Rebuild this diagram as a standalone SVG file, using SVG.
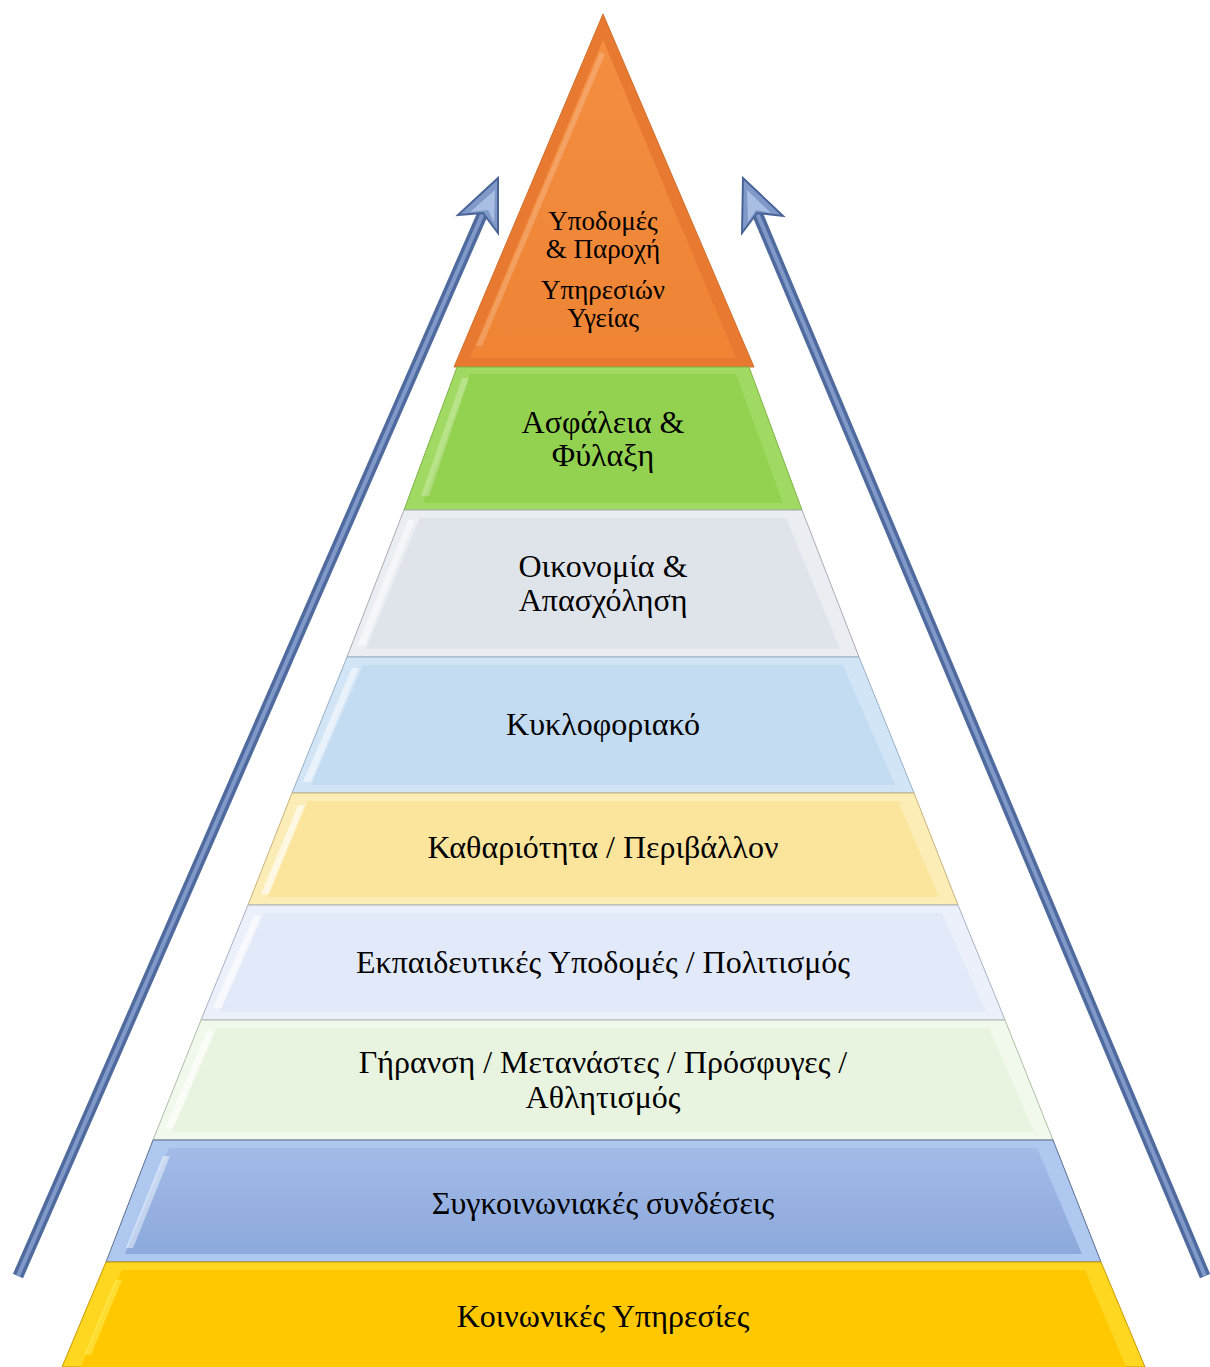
<svg xmlns="http://www.w3.org/2000/svg" width="1210" height="1367" viewBox="0 0 1210 1367">
<style>
.lbl{font-family:"Liberation Serif","Times New Roman",serif;font-size:32px;fill:#000;text-anchor:middle}
.sm{font-size:27px}
.shaftO{stroke:#4F6A9E;stroke-width:11;stroke-linecap:butt;fill:none}
.shaftI{stroke:#7F9AC9;stroke-width:4;fill:none}
.head{fill:#7F99C9;stroke:#4A6497;stroke-width:2;stroke-linejoin:miter}
.headI{fill:#A9BEE3}
.spec{fill:#fff}
</style>
<defs>
<linearGradient id="gOr" x1="0" y1="0" x2="0" y2="1"><stop offset="0" stop-color="#F48E40"/><stop offset="1" stop-color="#EE8434"/></linearGradient>
<linearGradient id="gBl" x1="0" y1="0" x2="0" y2="1"><stop offset="0" stop-color="#A2BBE7"/><stop offset="1" stop-color="#8CA9DC"/></linearGradient>
</defs>
<rect width="1210" height="1367" fill="#fff"/>

<g id="connectors">
  <g id="arrow-left">
    <line class="shaftO" x1="18" y1="1276" x2="483" y2="213"/>
    <line class="shaftI" x1="18" y1="1276" x2="483" y2="213"/>
    <polygon class="head" points="498,178 458,215 483,213 498,233"/>
    <polygon class="headI" points="495,190 470,212 488,210 494,222"/>
  </g>
  <g id="arrow-right">
    <line class="shaftO" x1="1205" y1="1276" x2="757" y2="213"/>
    <line class="shaftI" x1="1205" y1="1276" x2="757" y2="213"/>
    <polygon class="head" points="743,178 742,233 757,213 783,216"/>
    <polygon class="headI" points="747,190 748,222 756,210 771,213"/>
  </g>
</g>

<g id="layer-1">
  <polygon points="603,14 754,367 454,367" fill="#E77A30" stroke="#D0702E" stroke-width="1"/>
  <polygon points="603,40 736,358 470,358" fill="url(#gOr)"/>
  <polygon class="spec" points="600,52 605,54 482,346 476,346" opacity="0.2"/>
  <text class="lbl sm" x="603" y="230">Υποδομές</text>
  <text class="lbl sm" x="603" y="258">&amp; Παροχή</text>
  <text class="lbl sm" x="603" y="299">Υπηρεσιών</text>
  <text class="lbl sm" x="603" y="327">Υγείας</text>
</g>

<g id="layer-2">
  <polygon points="457,367 749,367 802,510 404,510" fill="#A0DA62" stroke="#80B448" stroke-width="1"/>
  <polygon points="470,374 736,374 783,503 423,503" fill="#93D151"/>
  <polygon class="spec" points="462,378 469,378 429,496 421,496" opacity="0.25"/>
  <text class="lbl" x="603" y="433">Ασφάλεια &amp;</text>
  <text class="lbl" x="603" y="466">Φύλαξη</text>
</g>

<g id="layer-3">
  <polygon points="404,510 802,510 859,657 347,657" fill="#EAEDF2" stroke="#A8ACB4" stroke-width="1"/>
  <polygon points="420,518 786,518 840,649 366,649" fill="#DFE3EA"/>
  <polygon class="spec" points="408,520 415,520 365,646 357,646" opacity="0.5"/>
  <text class="lbl" x="603" y="577">Οικονομία &amp;</text>
  <text class="lbl" x="603" y="611">Απασχόληση</text>
</g>

<g id="layer-4">
  <polygon points="347,657 859,657 914,793 292,793" fill="#D2E5F6" stroke="#98AEC4" stroke-width="1"/>
  <polygon points="363,665 843,665 895,785 311,785" fill="#C4DCF2"/>
  <polygon class="spec" points="352,668 359,668 311,782 303,782" opacity="0.5"/>
  <text class="lbl" x="603" y="735">Κυκλοφοριακό</text>
</g>

<g id="layer-5">
  <polygon points="292,793 914,793 958,905 248,905" fill="#FCEDB6" stroke="#C8B27A" stroke-width="1"/>
  <polygon points="308,801 898,801 939,897 267,897" fill="#FBE59C"/>
  <polygon class="spec" points="298,805 305,805 269,894 261,894" opacity="0.6"/>
  <text class="lbl" x="603" y="858">Καθαριότητα / Περιβάλλον</text>
</g>

<g id="layer-6">
  <polygon points="248,905 958,905 1005,1020 201,1020" fill="#ECF0FA" stroke="#A8B0C4" stroke-width="1"/>
  <polygon points="264,913 942,913 986,1012 220,1012" fill="#E2E9F8"/>
  <polygon class="spec" points="254,916 261,916 221,1008 213,1008" opacity="0.6"/>
  <text class="lbl" x="603" y="973">Εκπαιδευτικές Υποδομές / Πολιτισμός</text>
</g>

<g id="layer-7">
  <polygon points="201,1020 1005,1020 1053,1140 153,1140" fill="#F1F8EC" stroke="#B0BCA8" stroke-width="1"/>
  <polygon points="217,1028 989,1028 1034,1132 172,1132" fill="#E8F4DF"/>
  <polygon class="spec" points="207,1031 214,1031 173,1128 165,1128" opacity="0.6"/>
  <text class="lbl" x="603" y="1073">Γήρανση / Μετανάστες / Πρόσφυγες /</text>
  <text class="lbl" x="603" y="1108">Αθλητισμός</text>
</g>

<g id="layer-8">
  <polygon points="153,1140 1053,1140 1101,1262 106,1262" fill="#AEC8F0" stroke="#5C6E90" stroke-width="1"/>
  <polygon points="169,1148 1037,1148 1082,1254 125,1254" fill="url(#gBl)"/>
  <polygon class="spec" points="163,1156 170,1156 133,1248 126,1248" opacity="0.45"/>
  <text class="lbl" x="603" y="1214">Συγκοινωνιακές συνδέσεις</text>
</g>

<g id="layer-9">
  <polygon points="106,1262 1101,1262 1145,1367 62,1367" fill="#FFD620" stroke="#C89A00" stroke-width="1"/>
  <polygon points="122,1270 1085,1270 1126,1367 81,1367" fill="#FFC800"/>
  <polygon points="115,1280 122,1280 91,1355 84,1355" fill="#FFF060" opacity="0.5"/>
  <text class="lbl" x="603" y="1327">Κοινωνικές Υπηρεσίες</text>
</g>
</svg>
